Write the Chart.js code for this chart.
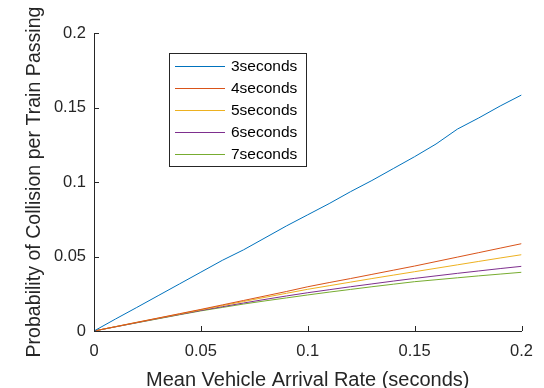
<!DOCTYPE html>
<html>
<head>
<meta charset="utf-8">
<script src="https://cdn.jsdelivr.net/npm/chart.js@4/dist/chart.umd.min.js"></script>
<style>
  html, body { margin: 0; padding: 0; background: #fff; }
  #wrap { width: 544px; height: 388px; }
</style>
</head>
<body>
<div id="wrap"><canvas id="c" width="544" height="388"></canvas></div>
<script>
// arrival rate (x) and collision probability per headway series
const rate = [0, 0.01, 0.02, 0.03, 0.04, 0.05, 0.06, 0.07, 0.08, 0.09, 0.10,
              0.11, 0.12, 0.13, 0.14, 0.15, 0.16, 0.17, 0.18, 0.19, 0.20];
const sec3 = [0, 0.0080, 0.0158, 0.0237, 0.0316, 0.0395, 0.0474, 0.0545, 0.0625, 0.0705, 0.0780,
              0.0855, 0.0935, 0.1010, 0.1090, 0.1170, 0.1255, 0.1355, 0.1430, 0.1510, 0.1584];
const sec4 = [0, 0.0029, 0.0058, 0.0087, 0.0116, 0.0145, 0.0175, 0.0205, 0.0235, 0.0265, 0.0297,
              0.0325, 0.0352, 0.0380, 0.0408, 0.0436, 0.0466, 0.0496, 0.0526, 0.0556, 0.0586];
const sec5 = [0, 0.0029, 0.0058, 0.0086, 0.0114, 0.0142, 0.0170, 0.0198, 0.0226, 0.0253, 0.0280,
              0.0304, 0.0328, 0.0352, 0.0375, 0.0398, 0.0421, 0.0444, 0.0467, 0.0490, 0.0512];
const sec6 = [0, 0.0028, 0.0056, 0.0084, 0.0111, 0.0138, 0.0163, 0.0188, 0.0212, 0.0235, 0.0257,
              0.0277, 0.0297, 0.0316, 0.0335, 0.0353, 0.0370, 0.0387, 0.0403, 0.0419, 0.0434];
const sec7 = [0, 0.0028, 0.0055, 0.0082, 0.0109, 0.0135, 0.0158, 0.0181, 0.0202, 0.0222, 0.0242,
              0.0261, 0.0279, 0.0297, 0.0314, 0.0331, 0.0344, 0.0357, 0.0370, 0.0382, 0.0394];
const seriesNames = ['3seconds', '4seconds', '5seconds', '6seconds', '7seconds'];
const xTicks = [0, 0.05, 0.1, 0.15, 0.2];
const yTicks = [0, 0.05, 0.1, 0.15, 0.2];

const colors = ['#0072BD', '#D95319', '#EDB120', '#7E2F8E', '#77AC30'];
const axisColor = '#262626';
const fontFamily = "'Liberation Sans', Arial, Helvetica, sans-serif";

const toPoints = ys => rate.map((x, i) => ({ x: x, y: ys[i] }));
const datasets = [sec3, sec4, sec5, sec6, sec7].map((ys, i) => ({
    label: seriesNames[i],
    data: toPoints(ys),
    borderColor: colors[i],
    backgroundColor: colors[i],
    borderWidth: 1,
    pointRadius: 0,
    tension: 0,
    fill: false
}));

// MATLAB style inward tick marks
const innerTicks = {
    id: 'innerTicks',
    afterDraw(chart) {
        const ctx = chart.ctx;
        const xs = chart.scales.x, ys = chart.scales.y;
        const len = 5;
        ctx.save();
        ctx.strokeStyle = axisColor;
        ctx.lineWidth = 1;
        ctx.beginPath();
        xTicks.forEach(v => {
            const px = Math.round(xs.getPixelForValue(v)) + 0.5;
            ctx.moveTo(px, ys.bottom);
            ctx.lineTo(px, ys.bottom - len);
        });
        yTicks.forEach(v => {
            const py = Math.round(ys.getPixelForValue(v)) + 0.5;
            ctx.moveTo(xs.left, py);
            ctx.lineTo(xs.left + len, py);
        });
        ctx.stroke();
        ctx.restore();
    }
};

// boxed legend placed inside the axes
const boxLegend = {
    id: 'boxLegend',
    afterDraw(chart) {
        const ctx = chart.ctx;
        const left = 169.5, top = 53.5, w = 137, h = 113;
        ctx.save();
        ctx.fillStyle = '#fff';
        ctx.fillRect(left, top, w, h);
        ctx.strokeStyle = axisColor;
        ctx.lineWidth = 1;
        ctx.strokeRect(left, top, w, h);
        ctx.font = '15.5px ' + fontFamily;
        ctx.textBaseline = 'middle';
        ctx.fillStyle = '#000';
        chart.data.datasets.forEach((ds, i) => {
            const y = 66 + i * 22;
            ctx.strokeStyle = ds.borderColor;
            ctx.beginPath();
            ctx.moveTo(175, y + 0.5);
            ctx.lineTo(225, y + 0.5);
            ctx.stroke();
            ctx.fillText(ds.label, 231, y + 1);
        });
        ctx.restore();
    }
};

new Chart(document.getElementById('c'), {
    type: 'line',
    data: { datasets: datasets },
    options: {
        responsive: false,
        animation: false,
        events: [],
        layout: { padding: { left: 0, top: 33, right: 22, bottom: 0 } },
        plugins: {
            legend: { display: false },
            tooltip: { enabled: false }
        },
        scales: {
            x: {
                type: 'linear',
                min: 0,
                max: 0.2,
                afterFit: s => { s.height = 57; },
                afterBuildTicks: s => { s.ticks = xTicks.map(v => ({ value: v })); },
                grid: { display: false, drawTicks: false },
                border: { display: true, color: axisColor, width: 1 },
                ticks: {
                    color: axisColor,
                    padding: 11,
                    maxRotation: 0,
                    font: { family: fontFamily, size: 16.5 },
                    callback: v => String(+v.toFixed(2))
                },
                title: {
                    display: true,
                    text: 'Mean Vehicle Arrival Rate (seconds)',
                    color: axisColor,
                    font: { family: fontFamily, size: 20, lineHeight: 1 },
                    padding: { top: 0, bottom: -2 }
                }
            },
            y: {
                type: 'linear',
                min: 0,
                max: 0.2,
                afterFit: s => { s.width = 94; },
                afterBuildTicks: s => { s.ticks = yTicks.map(v => ({ value: v })); },
                grid: { display: false, drawTicks: false },
                border: { display: true, color: axisColor, width: 1 },
                ticks: {
                    color: axisColor,
                    padding: 8,
                    font: { family: fontFamily, size: 16.5 },
                    callback: v => String(+v.toFixed(2))
                },
                title: {
                    display: true,
                    text: 'Probability of Collision per Train Passing',
                    color: axisColor,
                    font: { family: fontFamily, size: 19.6, lineHeight: 1 },
                    padding: { top: 25, bottom: 0 }
                }
            }
        }
    },
    plugins: [innerTicks, boxLegend]
});
</script>
</body>
</html>
